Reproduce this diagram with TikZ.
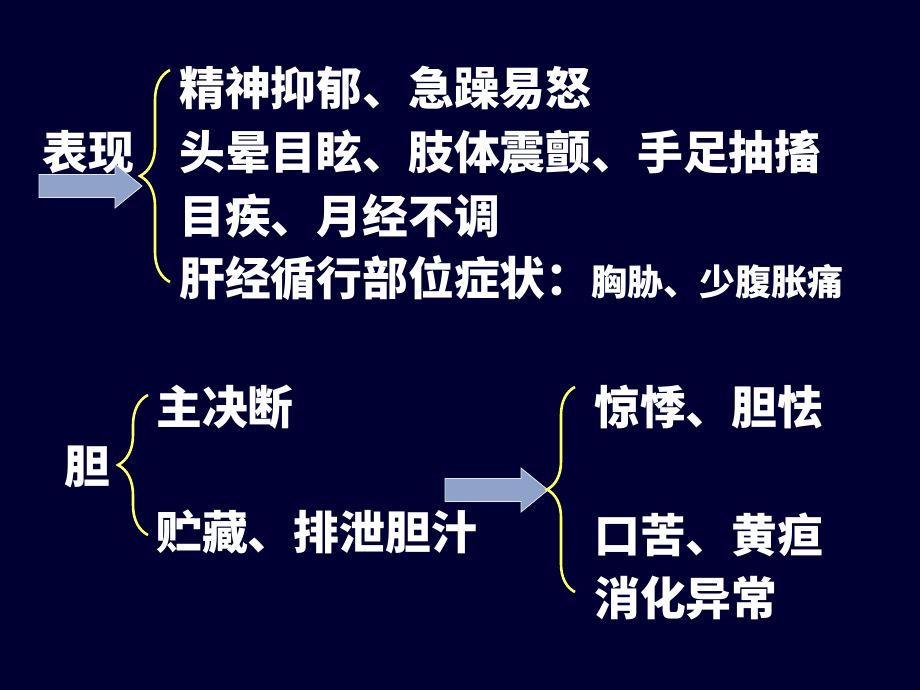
\documentclass[tikz,border=0pt]{standalone}
\usepackage{fontspec}
\newfontfamily\cjk{Noto Sans CJK SC}
\usetikzlibrary{decorations.pathreplacing}
\definecolor{fond}{RGB}{0,0,50}
\definecolor{jaune}{RGB}{255,255,102}
\definecolor{fleche}{RGB}{143,162,202}
\def\grand{\fontsize{45.8}{54}\selectfont}
\def\petit{\fontsize{36}{43}\selectfont}
% fleche pleine : \bloc{nom}{x gauche}{y milieu}
\newcommand{\bloc}[3]{
	\coordinate (#1) at (#2,#3);
	\draw[fill=fleche, draw=white!75!fleche, line width=0.8pt]
		($(#1)+(0,-11.5)$) -- ++(76,0) -- ++(0,-10.5) -- ++(27,22) -- ++(-27,22)
		-- ++(0,-10.5) -- ++(-76,0) -- cycle;
}

\tikzset{
	txt/.style={anchor=west, inner sep=0, text=white, font=\cjk\bfseries\grand},
	accolade/.style={draw=jaune, line width=2.6pt, decorate, decoration={brace, amplitude=#1}}
}
\usetikzlibrary{calc}

\begin{document}
\begin{tikzpicture}[x=1pt, y=-1pt]
	\fill[fond] (0,0) rectangle (920,690);
	%\draw[step=50, gray] (0,0) grid (920,690);

	% haut
	\node[txt] (biaoxian) at (42,152) {表现};
	\bloc{flecheA}{39}{186}
	\coordinate (bA1) at (170,282);
	\coordinate (bA2) at (170,70);
	\draw[accolade=30pt] (bA1) -- (bA2);
	\node[txt] (l1) at (179,88) {精神抑郁、急躁易怒};
	\node[txt] (l2) at (179,152) {头晕目眩、肢体震颤、手足抽搐};
	\node[txt] (l3) at (179,216) {目疾、月经不调};
	\node[txt] (l4) at (179,278) {肝经循行部位症状：{\petit 胸胁、少腹胀痛}};

	% bas
	\node[txt] (dan) at (64,467) {胆};
	\coordinate (bB1) at (148,535);
	\coordinate (bB2) at (148,395);
	\draw[accolade=30pt] (bB1) -- (bB2);
	\node[txt] (jueduan) at (156,407) {主决断};
	\node[txt] (zhucang) at (156,532) {贮藏、排泄胆汁};
	\bloc{flecheB}{445}{490}
	\coordinate (bC1) at (575,592);
	\coordinate (bC2) at (575,387);
	\draw[accolade=28pt] (bC1) -- (bC2);
	\node[txt] (jingji) at (594,407) {惊悸、胆怯};
	\node[txt] (kouku) at (594,535) {口苦、黄疸};
	\node[txt] (xiaohua) at (594,598) {消化异常};
\end{tikzpicture}
\end{document}
